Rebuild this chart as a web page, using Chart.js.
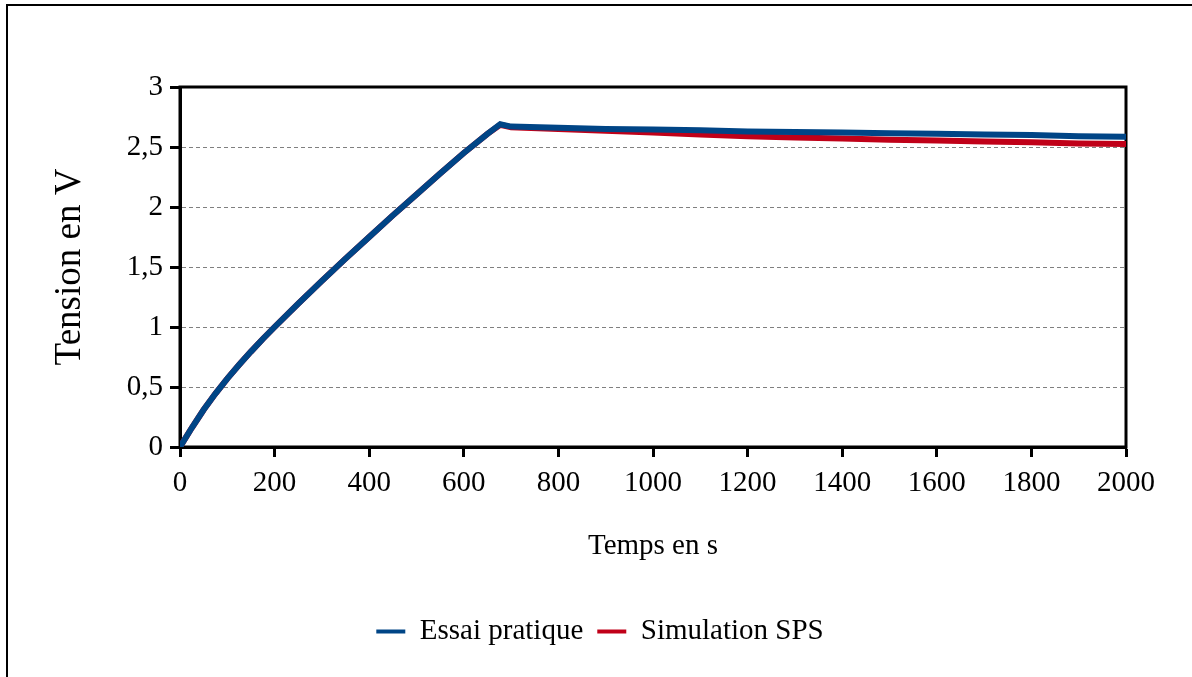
<!DOCTYPE html>
<html>
<head>
<meta charset="utf-8">
<script src="https://cdn.jsdelivr.net/npm/chart.js@4.4.1/dist/chart.umd.min.js"></script>
<style>
  html, body { margin: 0; padding: 0; background: #fff; overflow: hidden; }
  #wrap { position: relative; width: 1192px; height: 677px; }
  #frame { position: absolute; left: 6px; top: 4px; width: 1400px; height: 900px;
           border-top: 2px solid #000; border-left: 2px solid #000; pointer-events: none; }
  canvas { position: absolute; left: 0; top: 0; }
</style>
</head>
<body>
<div id="wrap">
  <canvas id="chart" width="1192" height="677"></canvas>
  <div id="frame"></div>
</div>
<script>
// temps en s
var temps = [0, 25, 50, 75, 100, 125, 150, 175, 200, 250, 300, 350, 400, 450, 500, 550, 600, 650, 677,
             700, 800, 900, 1000, 1100, 1200, 1300, 1400, 1500, 1600, 1700, 1800, 1900, 2000];
// tension mesuree (Essai pratique)
var essai = [0, 0.16, 0.31, 0.445, 0.57, 0.685, 0.795, 0.90, 1.0, 1.195, 1.385, 1.57, 1.75, 1.93, 2.105, 2.28, 2.45, 2.61, 2.69,
             2.67, 2.66, 2.65, 2.645, 2.64, 2.63, 2.625, 2.62, 2.615, 2.61, 2.605, 2.60, 2.59, 2.585];
// tension simulee (Simulation SPS)
var simulation = [0, 0.16, 0.31, 0.445, 0.57, 0.685, 0.795, 0.90, 1.0, 1.195, 1.385, 1.57, 1.75, 1.93, 2.105, 2.28, 2.45, 2.61, 2.685,
                  2.665, 2.65, 2.635, 2.62, 2.605, 2.59, 2.58, 2.57, 2.56, 2.555, 2.545, 2.54, 2.53, 2.525];
var xTicks = [0, 2000, 200];
var yTicks = [0, 3, 0.5];

function pts(ys){
    return temps.map(function(t, i){ return {x: t, y: ys[i]}; });
}

var famille = "'Liberation Serif', 'Times New Roman', serif";
var police = {family: famille, size: 29};

// cadre noir autour de la zone de tracé
var cadre = {
    id: 'cadre',
    beforeDatasetsDraw: function(chart){
        var a = chart.chartArea, ctx = chart.ctx;
        ctx.save();
        ctx.setLineDash([]);
        ctx.strokeStyle = '#000';
        ctx.lineWidth = 3;
        ctx.strokeRect(a.left, a.top, a.right - a.left, a.bottom - a.top);
        ctx.restore();
    }
};

var ctx = document.getElementById('chart').getContext('2d');
var mychart = new Chart(ctx, {
    type: 'line',
    data: {
        datasets: [
            {
                label: 'Essai pratique',
                data: pts(essai),
                borderColor: '#004586',
                backgroundColor: '#004586',
                borderWidth: 6,
                pointRadius: 0,
                tension: 0
            },
            {
                label: 'Simulation SPS',
                data: pts(simulation),
                borderColor: '#C00018',
                backgroundColor: '#C00018',
                borderWidth: 6,
                pointRadius: 0,
                tension: 0
            }
        ]
    },
    options: {
        responsive: false,
        animation: false,
        devicePixelRatio: 1,
        layout: {padding: {left: 8, right: 0, top: 87, bottom: 21}},
        plugins: {
            tooltip: {enabled: false},
            legend: {
                position: 'bottom',
                labels: {
                    font: police,
                    color: '#000',
                    boxWidth: 29,
                    boxHeight: 4,
                    padding: 14,
                    generateLabels: function(chart){
                        var items = Chart.defaults.plugins.legend.labels.generateLabels(chart);
                        items.forEach(function(it){ it.lineWidth = 0; });
                        return items;
                    }
                }
            }
        },
        scales: {
            x: {
                type: 'linear',
                min: xTicks[0], max: xTicks[1],
                afterFit: function(s){ s.height = 156; },
                ticks: {
                    stepSize: xTicks[2], font: police, color: '#000', padding: 9, maxRotation: 0,
                    callback: function(v){ return String(v); }
                },
                grid: {drawOnChartArea: false, tickLength: 10, tickColor: '#000', tickWidth: 3},
                border: {color: '#000', width: 3},
                title: {display: true, text: 'Temps en s', font: police, color: '#000', padding: {top: 0, bottom: 39}}
            },
            y: {
                min: yTicks[0], max: yTicks[1],
                afterFit: function(s){ s.width = 172; },
                ticks: {
                    stepSize: yTicks[2], font: police, color: '#000', padding: 7,
                    callback: function(v){ return String(v).replace('.', ','); }
                },
                grid: {color: '#808080', lineWidth: 1, tickLength: 10,
                       tickColor: '#000', tickWidth: 3, tickBorderDash: []},
                border: {color: '#000', width: 3, dash: [4, 3]},
                title: {display: true, text: 'Tension en V', font: {family: famille, size: 37},
                        color: '#000', padding: {top: 40, bottom: 0}}
            },
            y2: {
                position: 'right',
                min: 0, max: 3,
                afterFit: function(s){ s.width = 66; },
                ticks: {display: false},
                grid: {display: false},
                border: {display: false}
            }
        }
    },
    plugins: [cadre]
});
</script>
</body>
</html>
